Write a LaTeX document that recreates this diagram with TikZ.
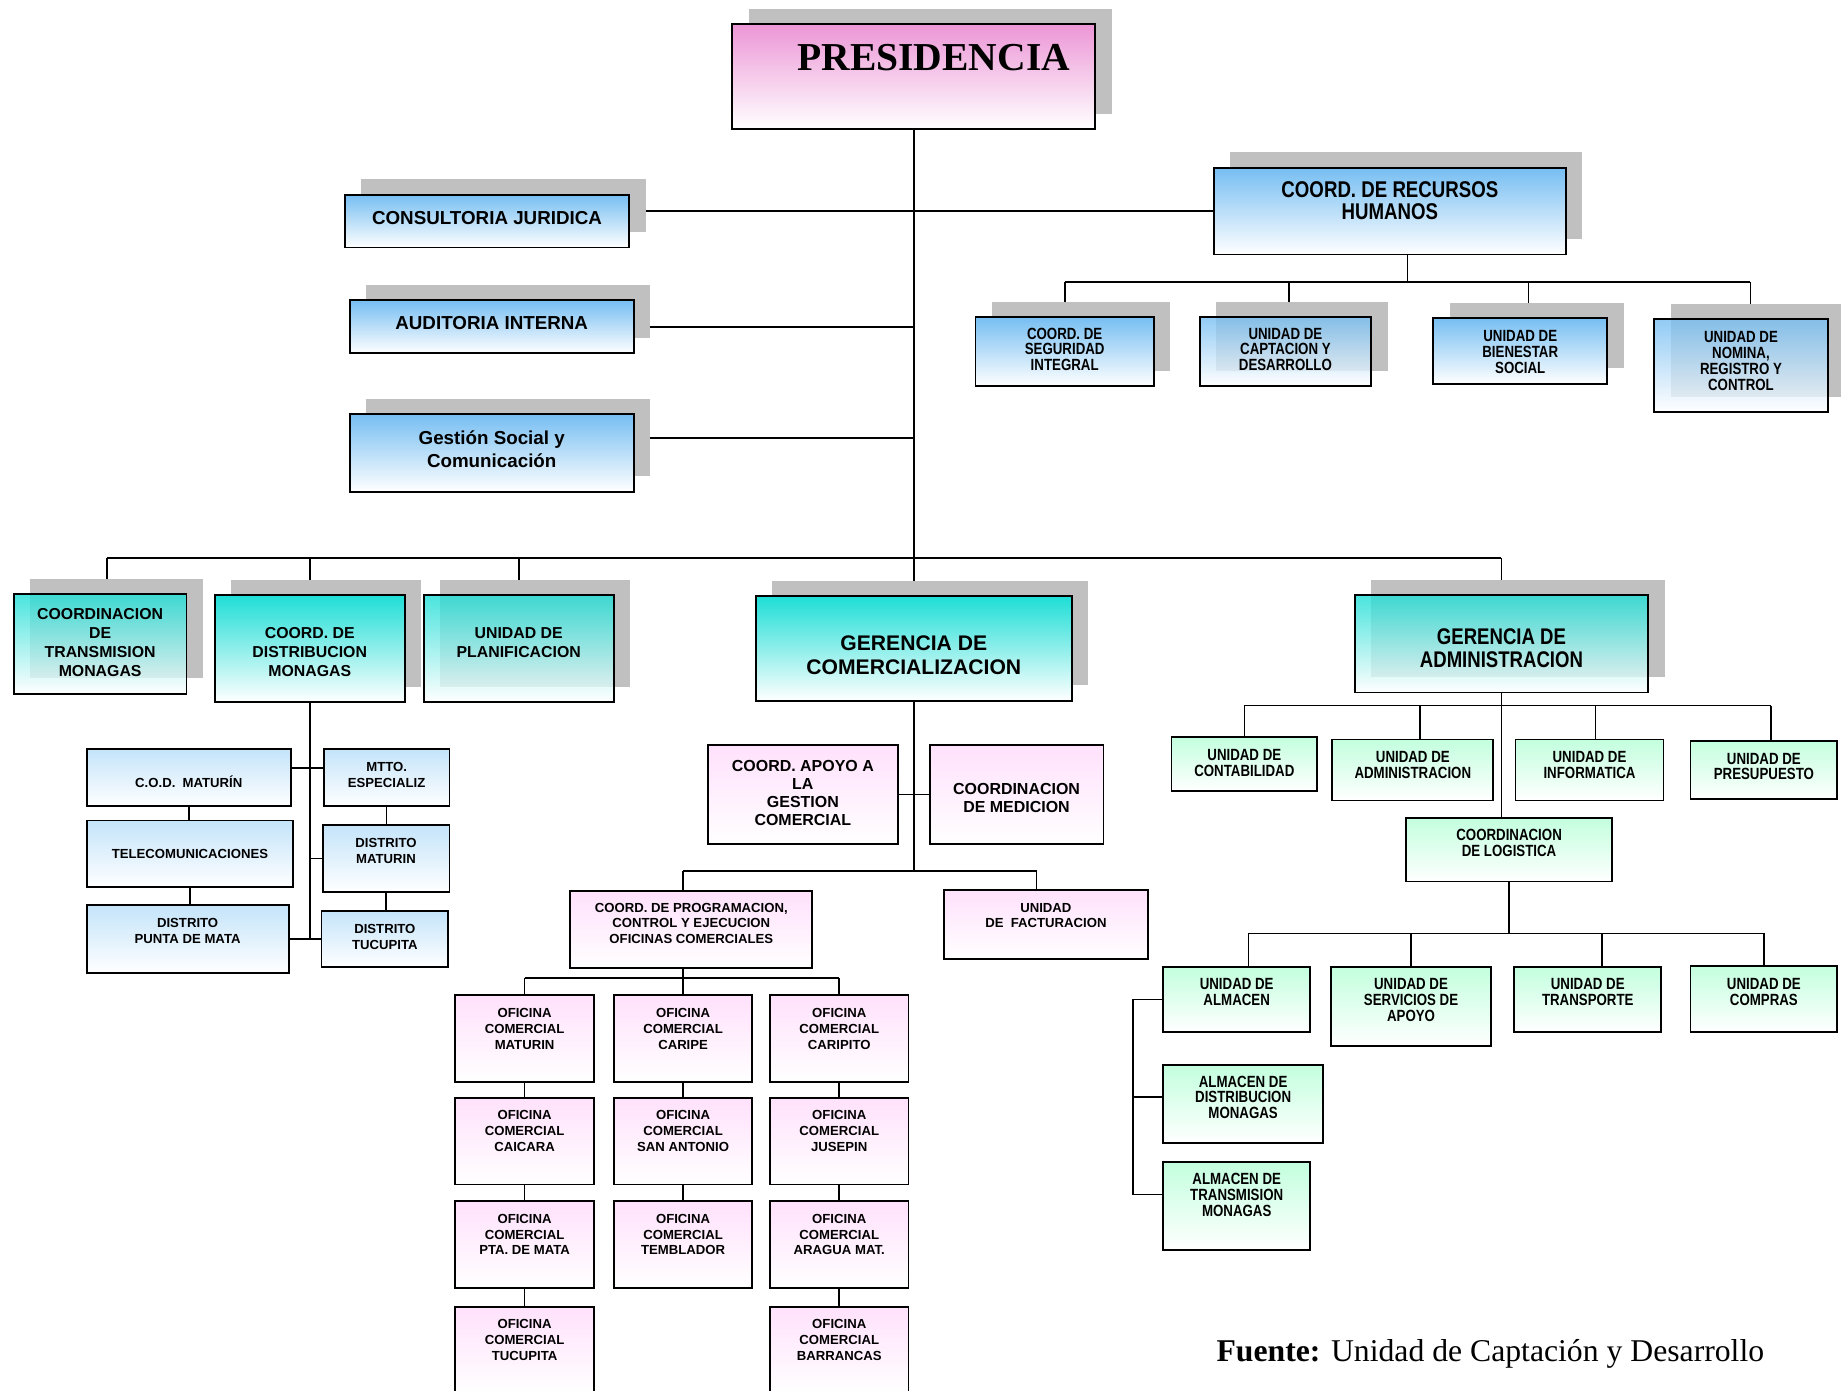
\documentclass[tikz,border=0pt]{standalone}
\usepackage{fontspec}
\setmainfont{Liberation Sans}
\newfontfamily\serifont{Liberation Serif}
\newfontfamily\narrowfont{Liberation Sans}[FakeStretch=0.82]
\usepackage{tikz}
\usetikzlibrary{shadows, backgrounds}

\definecolor{presTop}{RGB}{236,150,214}
\definecolor{blueTop}{RGB}{118,190,242}
\definecolor{tealTop}{RGB}{30,222,214}
\definecolor{skyTop}{RGB}{196,228,250}
\definecolor{pinkTop}{RGB}{255,225,252}
\definecolor{greenTop}{RGB}{195,255,222}
\definecolor{shadowgray}{RGB}{192,192,192}

\newcommand\presfnt{\serifont\bfseries\fontsize{33.7}{36}\selectfont}
\newcommand\headfnt{\bfseries\fontsize{16}{19}\selectfont}
\newcommand\rrhhfnt{\narrowfont\bfseries\fontsize{19.4}{19}\selectfont}
\newcommand\tealfnt{\bfseries\fontsize{13.5}{16}\selectfont}
\newcommand\gcomfnt{\bfseries\fontsize{18}{21}\selectfont}
\newcommand\gadmfnt{\narrowfont\bfseries\fontsize{19.3}{20}\selectfont}
\newcommand\smallfnt{\bfseries\fontsize{11.2}{13.5}\selectfont}
\newcommand\apoyofnt{\bfseries\fontsize{13.6}{15.5}\selectfont}
\newcommand\narrowfnt{\narrowfont\bfseries\fontsize{13.8}{13.5}\selectfont}
\newcommand\fuentefnt{\serifont\fontsize{27}{30}\selectfont}

\tikzset{
  orgbox/.style={draw, line width=1.6pt, anchor=north west, align=center,
    inner sep=0pt, bottom color=white},
  dims/.style n args={3}{minimum width=#1pt, text height=#2pt, text depth=#3pt},
  boxshadow/.style={drop shadow={opacity=1, fill=shadowgray,
    shadow xshift=14pt, shadow yshift=13pt}},
  seethru/.style={fill opacity=0.8, text opacity=1, draw opacity=1},
  presbox/.style={orgbox, boxshadow, top color=presTop, font=\presfnt},
  bluebox/.style={orgbox, boxshadow, top color=blueTop, font=\headfnt},
  bluesmall/.style={bluebox, font=\narrowfnt},
  tealbox/.style={orgbox, boxshadow, top color=tealTop, font=\tealfnt},
  skybox/.style={orgbox, top color=skyTop, font=\smallfnt},
  pinkbox/.style={orgbox, top color=pinkTop, font=\smallfnt},
  ofi/.style={pinkbox, dims={118}{46}{28}},
  greenbox/.style={orgbox, top color=greenTop, font=\narrowfnt},
  link/.style={line width=1.4pt},
}

\begin{document}
\begin{tikzpicture}[x=1pt, y=-1pt]
        \path[use as bounding box, clip] (0,0) rectangle (1568,1184);

        % top level
        \node[presbox, dims={309}{39}{50}] (pres) at (623,20) {\hspace*{34pt}PRESIDENCIA};
        \node[bluebox, dims={242}{25}{20}] (cons) at (293,165) {CONSULTORIA JURIDICA};
        \node[bluebox, dims={242}{25}{20}] (audi) at (297,255) {AUDITORIA INTERNA};
        \node[bluebox, dims={242}{45}{21}] (gsoc) at (297,352) {Gestión Social y\\Comunicación};
        \node[bluebox, font=\rrhhfnt, dims={300}{44}{30}] (rrhh) at (1033,142) {COORD. DE RECURSOS\\HUMANOS};

        % recursos humanos
        \node[bluesmall, dims={152}{46}{13}] (segu) at (830,269) {COORD. DE\\SEGURIDAD\\INTEGRAL};
        \node[bluesmall, seethru, dims={146}{46}{13}] (capt) at (1021,269) {UNIDAD DE\\CAPTACION Y\\DESARROLLO};
        \node[bluesmall, dims={148}{47}{9}] (bien) at (1220,270) {UNIDAD DE\\BIENESTAR\\SOCIAL};
        \node[bluesmall, seethru, dims={148}{60.5}{18.5}] (nomi) at (1408,271) {UNIDAD DE\\NOMINA,\\REGISTRO Y\\CONTROL};

        % second level
        \node[tealbox, seethru, dims={147}{70}{15}] (trans) at (11,505) {COORDINACION\\DE\\TRANSMISION\\MONAGAS};
        \node[tealbox, dims={162}{69}{22}] (distr) at (182,506) {COORD. DE\\DISTRIBUCION\\MONAGAS};
        \node[tealbox, seethru, dims={162}{53}{38}] (plan) at (360,506) {UNIDAD DE\\PLANIFICACION};
        \node[tealbox, font=\gcomfnt, dims={269}{67}{22}] (gcom) at (643,507) {GERENCIA DE\\COMERCIALIZACION};
        \node[tealbox, seethru, font=\gadmfnt, dims={250}{62}{21}] (gadm) at (1153,506) {GERENCIA DE\\ADMINISTRACION};

        % distribucion
        \node[skybox, dims={174}{33}{16}] (cod) at (73,637) {C.O.D.\ \ MATURÍN};
        \node[skybox, dims={176}{32}{25}] (tele) at (73,698) {TELECOMUNICACIONES};
        \node[skybox, dims={172}{32.5}{25.5}] (punta) at (73,770) {DISTRITO\\PUNTA DE MATA};
        \node[skybox, dims={107}{32.5}{16.5}] (mtto) at (275,637) {MTTO.\\ESPECIALIZ};
        \node[skybox, dims={108}{32.5}{24.5}] (dmat) at (274,702) {DISTRITO\\MATURIN};
        \node[skybox, dims={108}{32.5}{15.5}] (dtuc) at (273,775) {DISTRITO\\TUCUPITA};

        % comercializacion
        \node[pinkbox, font=\apoyofnt, dims={162}{68.5}{15.5}] (apoyo) at (602,634) {COORD. APOYO A\\LA\\GESTION\\COMERCIAL};
        \node[pinkbox, font=\apoyofnt, dims={148}{57.5}{26.5}] (medi) at (791,634) {COORDINACION\\DE MEDICION};
        \node[pinkbox, dims={206}{45}{21}] (prog) at (485,758) {COORD. DE PROGRAMACION,\\CONTROL Y EJECUCION\\OFICINAS COMERCIALES};
        \node[pinkbox, dims={174}{32.5}{26.5}] (fact) at (803,757) {UNIDAD\\DE\ \ FACTURACION};

        % oficinas comerciales
        \node[ofi] (omat) at (387,847) {OFICINA\\COMERCIAL\\MATURIN};
        \node[ofi] (ocai) at (387,934) {OFICINA\\COMERCIAL\\CAICARA};
        \node[ofi] (opta) at (387,1022) {OFICINA\\COMERCIAL\\PTA. DE MATA};
        \node[ofi] (otuc) at (387,1112) {OFICINA\\COMERCIAL\\TUCUPITA};
        \node[ofi] (ocarpe) at (522,847) {OFICINA\\COMERCIAL\\CARIPE};
        \node[ofi] (osan) at (522,934) {OFICINA\\COMERCIAL\\SAN ANTONIO};
        \node[ofi] (otem) at (522,1022) {OFICINA\\COMERCIAL\\TEMBLADOR};
        \node[ofi] (ocarto) at (655,847) {OFICINA\\COMERCIAL\\CARIPITO};
        \node[ofi] (ojus) at (655,934) {OFICINA\\COMERCIAL\\JUSEPIN};
        \node[ofi] (oara) at (655,1022) {OFICINA\\COMERCIAL\\ARAGUA MAT.};
        \node[ofi] (obar) at (655,1112) {OFICINA\\COMERCIAL\\BARRANCAS};

        % administracion
        \node[greenbox, dims={124}{33.5}{12.5}] (cont) at (997,627) {UNIDAD DE\\CONTABILIDAD};
        \node[greenbox, dims={137}{33.5}{18.5}] (uadm) at (1134,629) {UNIDAD DE\\ADMINISTRACION};
        \node[greenbox, dims={126}{33.5}{18.5}] (info) at (1290,629) {UNIDAD DE\\INFORMATICA};
        \node[greenbox, dims={125}{33.5}{16.5}] (ppto) at (1439,630) {UNIDAD DE\\PRESUPUESTO};
        \node[greenbox, dims={175}{32.5}{21.5}] (logi) at (1197,696) {COORDINACION\\DE LOGISTICA};
        \node[greenbox, dims={125}{32.5}{22.5}] (alma) at (990,823) {UNIDAD DE\\ALMACEN};
        \node[greenbox, dims={136}{46}{21}] (serv) at (1133,823) {UNIDAD DE\\SERVICIOS DE\\APOYO};
        \node[greenbox, dims={125}{32.5}{22.5}] (tran) at (1289,823) {UNIDAD DE\\TRANSPORTE};
        \node[greenbox, dims={125}{33.5}{22.5}] (comp) at (1439,822) {UNIDAD DE\\COMPRAS};
        \node[greenbox, dims={136}{46}{21}] (almd) at (990,906) {ALMACEN DE\\DISTRIBUCION\\MONAGAS};
        \node[greenbox, dims={125}{46}{29}] (almt) at (990,989) {ALMACEN DE\\TRANSMISION\\MONAGAS};

        % source
        \node[anchor=base west, font=\fuentefnt, inner sep=0pt] (fuente) at (1036,1160)
             {\textbf{Fuente:} Unidad de Captación y Desarrollo};

        % connectors
        \begin{scope}[on background layer]
          \fill[white] (0,0) rectangle (1568,1184);
          \coordinate (mbar) at (0,475);
          \coordinate (rbar) at (0,240);
          \coordinate (cbar) at (0,742);
          \coordinate (ofbar) at (0,833);
          \coordinate (abar) at (0,601);
          \coordinate (lbar) at (0,795);

          \draw[link] (pres.south) -- (gcom.north)
                      (cons.east |- rrhh.west) -- (rrhh.west)
                      (audi.east) -- (audi.east -| pres.south)
                      ([yshift=13pt]gsoc.east) -- ([yshift=13pt]gsoc.east -| pres.south);
          \draw[link, line width=2pt] ([xshift=6pt]trans.north |- mbar) -- (gadm.north |- mbar);
          \draw[link] ([xshift=6pt]trans.north) -- ([xshift=6pt]trans.north |- mbar)
                      (distr.north) -- (distr.north |- mbar)
                      (plan.north) -- (plan.north |- mbar)
                      (gadm.north) -- (gadm.north |- mbar);

          \draw[link] ([xshift=15pt]rrhh.south) -- ([xshift=15pt]rrhh.south |- rbar)
                      (segu.north |- rbar) -- ([xshift=8pt]nomi.north |- rbar)
                      (segu.north) -- (segu.north |- rbar)
                      ([xshift=3pt]capt.north) -- ([xshift=3pt]capt.north |- rbar)
                      ([xshift=7pt]bien.north) -- ([xshift=7pt]bien.north |- rbar)
                      ([xshift=8pt]nomi.north) -- ([xshift=8pt]nomi.north |- rbar);

          \draw[link] (distr.south) -- (distr.south |- dtuc.west)
                      ([yshift=8pt]cod.east) -- ([yshift=8pt]mtto.west)
                      (dmat.west) -- (dmat.west -| distr.south)
                      (punta.east) -- (dtuc.west)
                      (cod.south) -- (cod.south |- tele.north)
                      (tele.south) -- (tele.south |- punta.north)
                      (mtto.south) -- (mtto.south |- dmat.north)
                      (dmat.south) -- (dmat.south |- dtuc.north);

          \draw[link] (gcom.south) -- (gcom.south |- cbar)
                      (apoyo.east) -- (medi.west)
                      ([xshift=-7pt]prog.north |- cbar) -- ([xshift=-8pt]fact.north |- cbar)
                      ([xshift=-7pt]prog.north) -- ([xshift=-7pt]prog.north |- cbar)
                      ([xshift=-8pt]fact.north) -- ([xshift=-8pt]fact.north |- cbar);

          \draw[link] (ocarpe.north |- prog.south) -- (ocarpe.north)
                      (omat.north |- ofbar) -- (ocarto.north |- ofbar)
                      (omat.north) -- (omat.north |- ofbar)
                      (ocarto.north) -- (ocarto.north |- ofbar)
                      (omat.south) -- (ocai.north)
                      (ocai.south) -- (opta.north)
                      (opta.south) -- (otuc.north)
                      (ocarpe.south) -- (osan.north)
                      (osan.south) -- (otem.north)
                      (ocarto.south) -- (ojus.north)
                      (ojus.south) -- (oara.north)
                      (oara.south) -- (obar.north);

          \draw[link] (gadm.south) -- (gadm.south |- logi.north)
                      (cont.north |- abar) -- ([xshift=6pt]ppto.north |- abar)
                      (cont.north) -- (cont.north |- abar)
                      ([xshift=6pt]uadm.north) -- ([xshift=6pt]uadm.north |- abar)
                      ([xshift=5pt]info.north) -- ([xshift=5pt]info.north |- abar)
                      ([xshift=6pt]ppto.north) -- ([xshift=6pt]ppto.north |- abar);

          \draw[link] (logi.south) -- (logi.south |- lbar)
                      ([xshift=10pt]alma.north |- lbar) -- (comp.north |- lbar)
                      ([xshift=10pt]alma.north) -- ([xshift=10pt]alma.north |- lbar)
                      (serv.north) -- (serv.north |- lbar)
                      ([xshift=12pt]tran.north) -- ([xshift=12pt]tran.north |- lbar)
                      (comp.north) -- (comp.north |- lbar)
                      (alma.west) -- ++(-25,0) |- ([yshift=10pt]almt.west)
                      ([yshift=6pt]almd.west) -- ++(-25,0);
        \end{scope}
      \end{tikzpicture}
\end{document}
